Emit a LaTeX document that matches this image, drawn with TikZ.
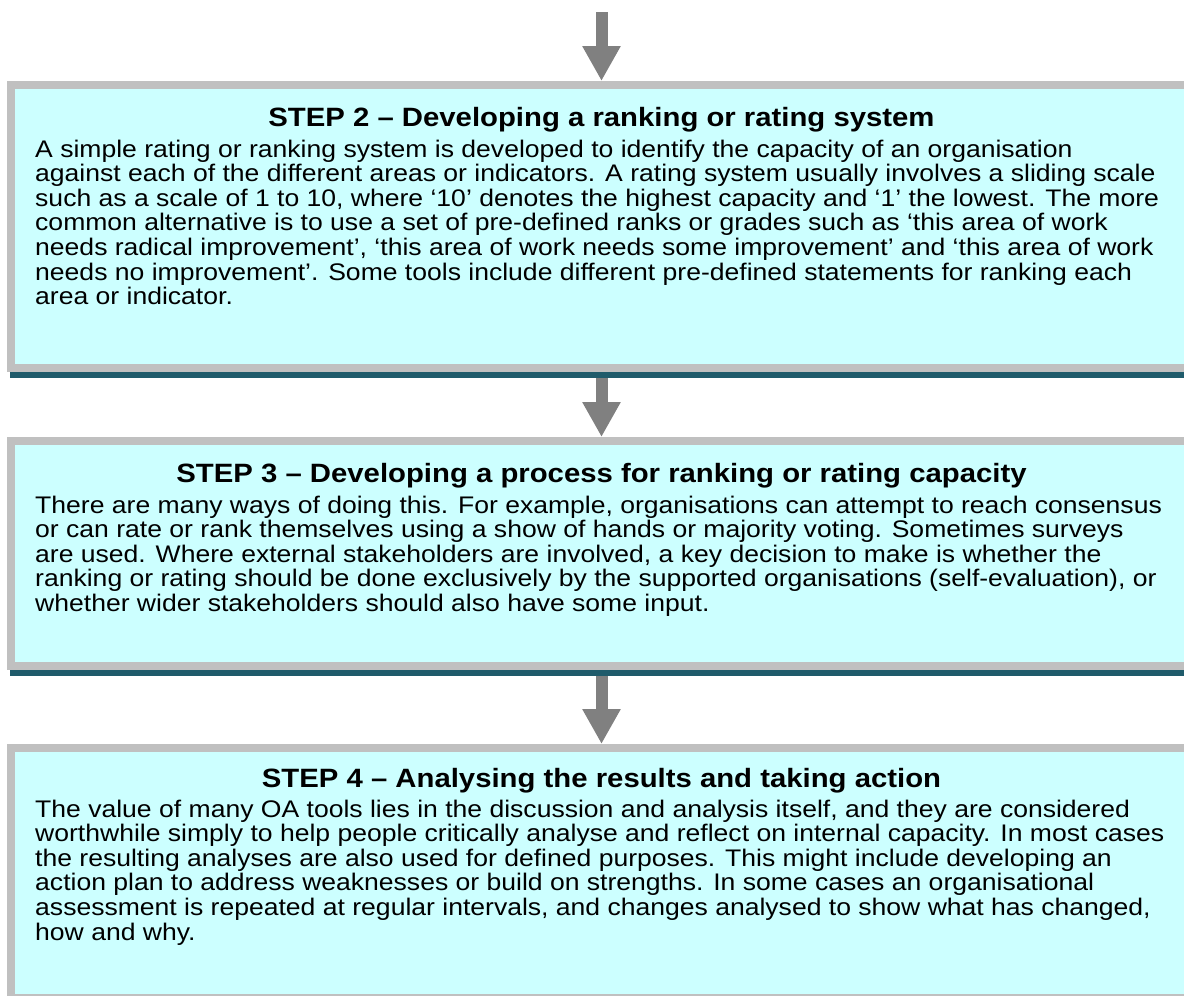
\documentclass[tikz,border=0pt]{standalone}
\usepackage{fontspec}
\setmainfont{Liberation Sans}
\usetikzlibrary{arrows.meta}
\definecolor{boxfill}{HTML}{CCFFFF}
\definecolor{boxframe}{HTML}{C0C0C0}
\definecolor{boxshade}{HTML}{1F5B6B}
\definecolor{arrowgray}{HTML}{808080}
\begin{document}
\begin{tikzpicture}[x=1pt,y=-1pt]
    % frame thickness of each box
    \def\fr{8pt}
    % horizontal stretch of the texts
    \def\sx{1.106}
    % box and text style definition
    \tikzstyle{stepbox} = [
    	draw=boxframe, fill=boxfill, rectangle, line width=\fr,
    	inner sep=0pt, minimum width=1181pt ];
    \tikzstyle{shade} = [fill=boxshade, draw=none];
    \tikzstyle{flow} = [draw=arrowgray, line width=12pt,
    	-{Triangle[width=36pt,length=35pt]}];
    \tikzstyle{title} = [font=\fontsize{26.5}{28}\selectfont\bfseries,
    	inner sep=0pt, anchor=base, xscale=\sx];
    \tikzstyle{body} = [font=\fontsize{24}{24.6}\selectfont,
    	align=left, inner sep=0pt, anchor=base west, xscale=\sx];
    \useasboundingbox (0,0) rectangle (1184,996);
    % boxes
    \node[stepbox, minimum height=283pt] (step2) at (601.5,226.5) {};
    \node[stepbox, minimum height=225pt] (step3) at (601.5,553.5) {};
    \node[stepbox, minimum height=250pt] (step4) at (601.5,873) {};
    % dark edge under the first two boxes
    \fill[shade] ([xshift=3pt]step2.south west) rectangle ([shift={(3pt,-6pt)}]step2.south east);
    \fill[shade] ([xshift=3pt]step3.south west) rectangle ([shift={(3pt,-6pt)}]step3.south east);
    % titles
    \node[title] (t2) at (601.5,126) {STEP 2 – Developing a ranking or rating system};
    \node[title] (t3) at (601.5,482) {STEP 3 – Developing a process for ranking or rating capacity};
    \node[title] (t4) at (601.5,787) {STEP 4 – Analysing the results and taking action};
    % texts (anchored at the baseline of the last line)
    \node[body] (b2) at (35,304.6) {A simple rating or ranking system is developed to identify the capacity of an organisation\\
    	against each of the different areas or indicators. A rating system usually involves a sliding scale\\
    	such as a scale of 1 to 10, where ‘10’ denotes the highest capacity and ‘1’ the lowest. The more\\
    	common alternative is to use a set of pre-defined ranks or grades such as ‘this area of work\\
    	needs radical improvement’, ‘this area of work needs some improvement’ and ‘this area of work\\
    	needs no improvement’. Some tools include different pre-defined statements for ranking each\\
    	area or indicator.};
    \node[body] (b3) at (35,611.4) {There are many ways of doing this. For example, organisations can attempt to reach consensus\\
    	or can rate or rank themselves using a show of hands or majority voting. Sometimes surveys\\
    	are used. Where external stakeholders are involved, a key decision to make is whether the\\
    	ranking or rating should be done exclusively by the supported organisations (self-evaluation), or\\
    	whether wider stakeholders should also have some input.};
    \node[body] (b4) at (35,940) {The value of many OA tools lies in the discussion and analysis itself, and they are considered\\
    	worthwhile simply to help people critically analyse and reflect on internal capacity. In most cases\\
    	the resulting analyses are also used for defined purposes. This might include developing an\\
    	action plan to address weaknesses or build on strengths. In some cases an organisational\\
    	assessment is repeated at regular intervals, and changes analysed to show what has changed,\\
    	how and why.};
    % arrows
    \coordinate (top) at (601.5,12);
    \draw[flow] (top) -- (step2.north);
    \draw[flow, shorten <=6pt] (step2.south) -- (step3.north);
    \draw[flow, shorten <=6pt] (step3.south) -- (step4.north);
\end{tikzpicture}
\end{document}
